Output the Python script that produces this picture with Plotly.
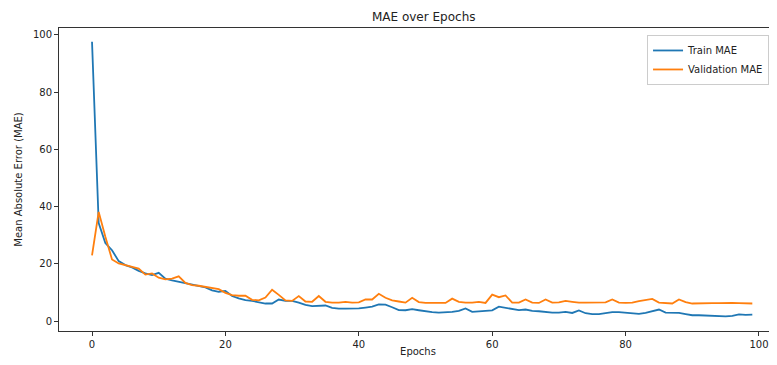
import plotly.graph_objects as go

epochs = list(range(100))

train_mae = [
    97.6, 34.3, 27.3, 24.8, 21.0, 19.6, 18.8, 17.6, 16.7, 16.1,
    16.9, 14.9, 14.3, 13.8, 13.2, 12.6, 12.2, 11.8, 10.8, 10.3,
    10.6, 8.8, 8.0, 7.4, 7.1, 6.6, 6.2, 6.2, 7.6, 7.1,
    7.1, 6.5, 5.7, 5.3, 5.5, 5.5, 4.7, 4.4, 4.4, 4.4,
    4.5, 4.8, 5.1, 5.9, 5.8, 4.9, 3.9, 3.85, 4.2, 3.85,
    3.4, 3.2, 3.0, 3.1, 3.3, 3.6, 4.5, 3.3, 3.5, 3.6,
    3.8, 5.1, 4.7, 4.4, 3.9, 4.1, 3.6, 3.5, 3.2, 3.0,
    3.0, 3.3, 2.9, 3.8, 2.8, 2.5, 2.5, 2.9, 3.2, 3.2,
    3.0, 2.7, 2.6, 2.9, 3.6, 4.1, 3.0, 2.9, 2.9, 2.5,
    2.1, 2.1, 2.0, 1.9, 1.8, 1.7, 1.9, 2.4, 2.2, 2.3,
]

val_mae = [
    23.0, 38.2, 29.5, 21.6, 20.2, 19.6, 19.0, 18.4, 16.3, 16.7,
    15.2, 14.6, 14.9, 15.7, 13.4, 12.6, 12.4, 12.0, 11.4, 11.2,
    9.9, 9.1, 8.9, 8.9, 7.5, 7.3, 8.3, 11.0, 9.2, 7.3,
    7.1, 8.8, 6.9, 6.8, 8.8, 6.8, 6.5, 6.5, 6.8, 6.5,
    6.6, 7.6, 7.6, 9.6, 8.2, 7.3, 6.9, 6.5, 8.2, 6.7,
    6.4, 6.4, 6.4, 6.4, 7.9, 6.8, 6.5, 6.5, 6.8, 6.4,
    9.3, 8.4, 9.0, 6.5, 6.5, 7.6, 6.5, 6.4, 7.6, 6.5,
    6.6, 7.1, 6.8, 6.5, 6.5, 6.5, 6.5, 6.6, 7.6, 6.5,
    6.4, 6.5, 7.0, 7.5, 7.8, 6.5, 6.3, 6.2, 7.6, 6.7,
    6.2, 6.3, 6.3, 6.3, 6.3, 6.4, 6.4, 6.3, 6.3, 6.2,
]

x_ticks = [0, 20, 40, 60, 80, 100]
y_ticks = [0, 20, 40, 60, 80, 100]

FONT = "DejaVu Sans"

fig = go.Figure()
fig.add_trace(go.Scatter(x=epochs, y=train_mae, mode="lines", name="Train MAE",
                         line=dict(color="#1f77b4", width=1.8)))
fig.add_trace(go.Scatter(x=epochs, y=val_mae, mode="lines", name="Validation MAE",
                         line=dict(color="#ff7f0e", width=1.8)))

# the page body adds an 8px offset, so the figure is sized to fit the window
fig.update_layout(
    width=769, height=349,
    margin=dict(l=51, r=0, t=20, b=26, autoexpand=False),
    paper_bgcolor="white", plot_bgcolor="white",
    font=dict(family=FONT, size=10, color="#222"),
    title=dict(text="MAE over Epochs", x=0.508, xref="paper", xanchor="center",
               y=1 - 9 / 349, yref="container", yanchor="middle", automargin=False,
               font=dict(family=FONT, size=12, color="#222")),
    showlegend=True,
    legend=dict(x=0.819, y=0.977, xanchor="left", yanchor="top",
                bgcolor="rgba(255,255,255,0.9)", bordercolor="#cccccc", borderwidth=1,
                font=dict(family=FONT, size=10, color="#222"),
                tracegroupgap=0, itemwidth=30),
)

fig.update_xaxes(
    range=[-4.95, 102.7], tickvals=x_ticks, ticktext=[str(v) for v in x_ticks],
    showgrid=False, zeroline=False, automargin=False, ticklabeloverflow="allow",
    showline=True, linecolor="#333", linewidth=1, mirror=True,
    ticks="outside", ticklen=4, tickcolor="#333",
    title=dict(text="Epochs", standoff=0, font=dict(family=FONT, size=10, color="#222")),
)
fig.update_yaxes(
    range=[-3.4, 102.4], tickvals=y_ticks, ticktext=[str(v) for v in y_ticks],
    showgrid=False, zeroline=False, automargin=False,
    showline=True, linecolor="#333", linewidth=1, mirror=False,
    ticks="outside", ticklen=4, tickcolor="#333",
    title=dict(text="Mean Absolute Error (MAE)", standoff=8,
               font=dict(family=FONT, size=10, color="#222")),
)

fig.write_html("out.html")
